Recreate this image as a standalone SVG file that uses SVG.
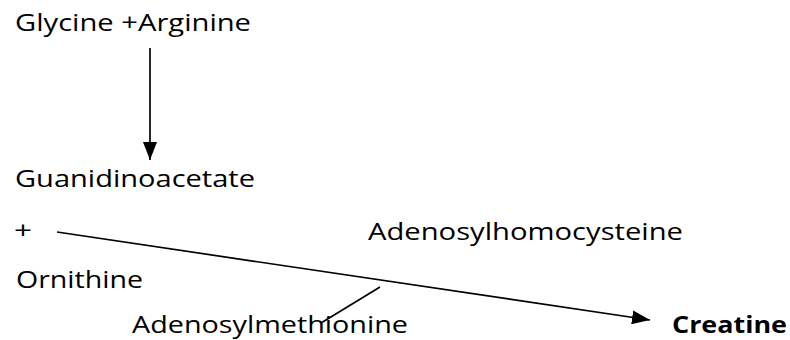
<svg xmlns="http://www.w3.org/2000/svg" width="790" height="340" viewBox="0 0 790 340">
<style>
text{font-family:"Open Sans","Noto Sans","DejaVu Sans",sans-serif;font-size:23px;fill:#000}
.b{font-weight:bold}
.c{stroke:#000;stroke-width:1.7;fill:none}
</style>
<defs>
<marker id="ah2" markerWidth="18" markerHeight="14" refX="18" refY="7" orient="auto" markerUnits="userSpaceOnUse" viewBox="0 0 18 14">
<path d="M0,0 L18,7 L0,14 Z" fill="#000"/>
</marker>
</defs>
<rect width="790" height="340" fill="#fff"/>
<g id="glycine"><text x="15" y="31" textLength="236" lengthAdjust="spacingAndGlyphs">Glycine +Arginine</text></g>
<g id="guanidinoacetate"><text x="15" y="187" textLength="240" lengthAdjust="spacingAndGlyphs">Guanidinoacetate</text></g>
<g id="plus"><text x="14" y="239" textLength="18" lengthAdjust="spacingAndGlyphs">+</text></g>
<g id="ornithine"><text x="16" y="288" textLength="127" lengthAdjust="spacingAndGlyphs">Ornithine</text></g>
<g id="adenosylhomocysteine"><text x="368" y="240" textLength="315" lengthAdjust="spacingAndGlyphs">Adenosylhomocysteine</text></g>
<g id="adenosylmethionine"><text x="132" y="333" textLength="276" lengthAdjust="spacingAndGlyphs">Adenosylmethionine</text></g>
<g id="creatine"><text class="b" x="672" y="333" textLength="115" lengthAdjust="spacingAndGlyphs">Creatine</text></g>
<g id="connectors">
<line class="c" x1="150" y1="48" x2="150" y2="160" marker-end="url(#ah2)"/>
<line class="c" x1="57" y1="232" x2="650" y2="320" marker-end="url(#ah2)"/>
<line class="c" x1="321" y1="323" x2="380" y2="287"/>
</g>
</svg>
